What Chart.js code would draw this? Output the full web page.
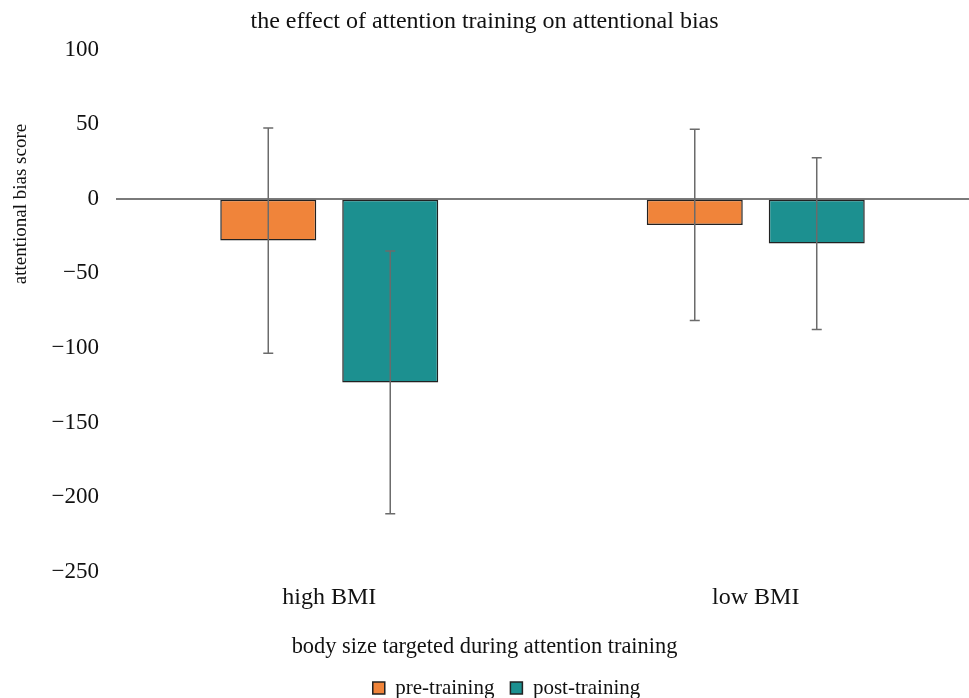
<!DOCTYPE html>
<html>
<head>
<meta charset="utf-8">
<script src="https://cdn.jsdelivr.net/npm/chart.js@4.4.1/dist/chart.umd.min.js"></script>
<style>
html,body{margin:0;padding:0;background:#fff;}
#wrap{width:969px;height:698px;position:relative;}
</style>
</head>
<body>
<div id="wrap"><canvas id="c"></canvas></div>
<script>
const categories = ["high BMI", "low BMI"];
const seriesNames = ["pre-training", "post-training"];
const preValues = [-28, -17.5];
const postValues = [-123, -30];
const preErrors = [75.5, 64];
const postErrors = [88, 57.5];
const yTicks = [100, 50, 0, -50, -100, -150, -200, -250];
const chartTitle = 'the effect of attention training on attentional bias';
const xTitle = 'body size targeted during attention training';
const yTitle = 'attentional bias score';

const FONT = "'Liberation Serif', 'Times New Roman', serif";

const errorBarPlugin = {
  id: 'errorBars',
  afterDatasetsDraw(chart) {
    const ctx = chart.ctx;
    const yScale = chart.scales.y;
    chart.data.datasets.forEach((ds, di) => {
      const meta = chart.getDatasetMeta(di);
      meta.data.forEach((bar, i) => {
        const v = ds.data[i];
        const e = ds.errors[i];
        const x = bar.x;
        const yTop = yScale.getPixelForValue(v + e);
        const yBot = yScale.getPixelForValue(v - e);
        ctx.save();
        ctx.strokeStyle = '#6b6b6b';
        ctx.lineWidth = 1.5;
        ctx.beginPath();
        ctx.moveTo(x, yTop); ctx.lineTo(x, yBot);
        ctx.moveTo(x - 5, yTop); ctx.lineTo(x + 5, yTop);
        ctx.moveTo(x - 5, yBot); ctx.lineTo(x + 5, yBot);
        ctx.stroke();
        ctx.restore();
      });
    });
  }
};

// y-axis title, placed as in the reference (above the axis centre)
const yTitlePlugin = {
  id: 'yTitle',
  afterDraw(chart) {
    const ctx = chart.ctx;
    ctx.save();
    ctx.translate(21.5, 204);
    ctx.rotate(-Math.PI / 2);
    ctx.fillStyle = '#111';
    ctx.font = '19px ' + FONT;
    ctx.textAlign = 'center';
    ctx.textBaseline = 'middle';
    ctx.fillText(yTitle, 0, 0);
    ctx.restore();
  }
};

// shift legend slightly right, as in the reference
const legendShiftPlugin = {
  id: 'legendShift',
  afterLayout(chart) {
    if (chart.legend) {
      chart.legend.left += 22;
      chart.legend.right += 22;
    }
  }
};

new Chart(document.getElementById('c'), {
  type: 'bar',
  data: {
    labels: categories,
    datasets: [
      { label: seriesNames[0], data: preValues, errors: preErrors,
        backgroundColor: '#F0843A', borderColor: '#222', borderWidth: 1.5, borderSkipped: false,
        categoryPercentage: 0.572, barPercentage: 0.787 },
      { label: seriesNames[1], data: postValues, errors: postErrors,
        backgroundColor: '#1C9090', borderColor: '#222', borderWidth: 1.5, borderSkipped: false,
        categoryPercentage: 0.572, barPercentage: 0.787 }
    ]
  },
  options: {
    responsive: true,
    maintainAspectRatio: false,
    animation: false,
    devicePixelRatio: 1,
    layout: { padding: { left: 0, right: 0, top: 0, bottom: -10.5 } },
    plugins: {
      title: {
        display: true,
        text: chartTitle,
        color: '#111',
        font: { family: FONT, size: 24, weight: 'normal' },
        padding: { top: 7.6, bottom: 13.1 }
      },
      subtitle: {
        display: true,
        position: 'bottom',
        weight: 500,
        text: xTitle,
        color: '#111',
        font: { family: FONT, size: 22.4, weight: 'normal' },
        padding: { top: 10.8, bottom: 1 }
      },
      legend: {
        display: true,
        position: 'bottom',
        labels: {
          color: '#111',
          font: { family: FONT, size: 21 },
          boxWidth: 12, boxHeight: 12, padding: 16
        }
      },
      tooltip: { enabled: false }
    },
    scales: {
      x: {
        grid: { display: false, drawTicks: false },
        border: { display: false },
        ticks: { color: '#111', font: { family: FONT, size: 24 }, padding: 11 }
      },
      y: {
        min: -250, max: 100,
        afterBuildTicks(scale) { scale.ticks = yTicks.map(v => ({ value: v })); },
        afterFit(scale) { scale.width = 116; },
        grid: {
          drawTicks: false,
          lineWidth: 2,
          color: (c) => (c.tick && c.tick.value === 0) ? '#7a7a7a' : 'rgba(0,0,0,0)'
        },
        border: { display: false },
        ticks: {
          color: '#111',
          font: { family: FONT, size: 23 },
          padding: 17,
          callback: (v) => (v < 0 ? '\u2212' + Math.abs(v) : String(v))
        },
        title: { display: false }
      }
    }
  },
  plugins: [errorBarPlugin, yTitlePlugin, legendShiftPlugin]
});
</script>
</body>
</html>
